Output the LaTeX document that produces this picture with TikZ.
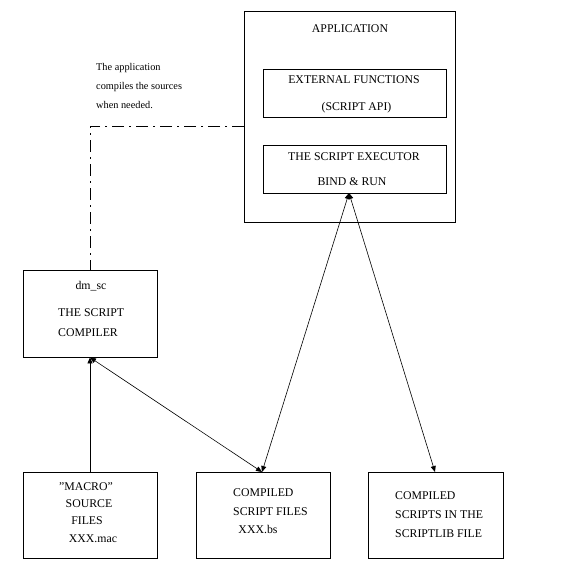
\documentclass[tikz,border=0pt]{standalone}
\usepackage{fontspec}
\setmainfont{Liberation Serif}
\usetikzlibrary{arrows.meta}
\begin{document}
\begin{tikzpicture}[x=1pt,y=-1pt,
  box/.style={draw,line width=0.9pt,rectangle,inner sep=0pt},
  txt/.style={inner sep=0pt,anchor=base,font=\fontsize{11.8}{13}\selectfont},
  ltxt/.style={txt,anchor=base west},
  small/.style={inner sep=0pt,anchor=base west,font=\fontsize{10.3}{12}\selectfont},
  conn/.style={line width=0.6pt,-{Triangle[length=6pt,width=5pt]}},
  dconn/.style={line width=0.6pt,{Triangle[length=6pt,width=5pt]}-{Triangle[length=6pt,width=5pt]}},
  dashdot/.style={line width=0.8pt,dash pattern=on 12pt off 5pt on 2pt off 5pt}]
\useasboundingbox[fill=white] (0,0) rectangle (576,576);
% boxes
\node[box,minimum width=211pt,minimum height=211pt] (app) at (349.5,116.5) {};
\node[box,minimum width=183pt,minimum height=48pt] (ext) at (354.5,93) {};
\node[box,minimum width=183pt,minimum height=48pt] (exe) at (354.5,169) {};
\node[box,minimum width=134pt,minimum height=87pt] (sc) at (90,313.5) {};
\node[box,minimum width=134pt,minimum height=86pt] (mac) at (90,515) {};
\node[box,minimum width=134pt,minimum height=86pt] (bs) at (263,515) {};
\node[box,minimum width=135pt,minimum height=86pt] (lib) at (435.5,515) {};
% texts
\node[txt] (tapp) at (350,32) {APPLICATION};
\node[txt] (text1) at (354,83.5) {EXTERNAL FUNCTIONS};
\node[txt] (text2) at (356.5,110.5) {(SCRIPT API)};
\node[txt] (texe1) at (354,160.5) {THE SCRIPT EXECUTOR};
\node[txt] (texe2) at (352,185.5) {BIND \& RUN};
\node[txt] (tsc1) at (91,289) {dm\_sc};
\node[ltxt] (tsc2) at (58,316) {THE SCRIPT};
\node[ltxt] (tsc3) at (58,336) {COMPILER};
\node[txt] (tmac1) at (86,490) {"MACRO"};
\node[txt] (tmac2) at (89,507.5) {SOURCE};
\node[txt] (tmac3) at (87,524) {FILES};
\node[txt] (tmac4) at (93,542.5) {XXX.mac};
\node[ltxt] (tbs1) at (233,496.5) {COMPILED};
\node[ltxt] (tbs2) at (233,515) {SCRIPT FILES};
\node[txt] (tbs3) at (258,533) {XXX.bs};
\node[ltxt] (tlib1) at (395,499.5) {COMPILED};
\node[ltxt] (tlib2) at (395,518.5) {SCRIPTS IN THE};
\node[ltxt] (tlib3) at (395,537) {SCRIPTLIB FILE};
\node[small] (note1) at (96,70) {The application};
\node[small] (note2) at (96,89) {compiles the sources};
\node[small] (note3) at (96,108) {when needed.};
% ports
\coordinate (appjoin) at (244,126);
\coordinate (exeport) at (349,193);
\coordinate (bsport) at (262,472);
\coordinate (libport) at (435,472);
% connectors
\draw[dashdot] (appjoin) -| (sc.north);
\draw[conn,line width=0.8pt] (mac.north) -- (sc.south);
\draw[dconn] (sc.south) -- (bsport);
\draw[dconn] (exeport) -- (bsport);
\draw[dconn] (exeport) -- (libport);
\end{tikzpicture}
\end{document}
